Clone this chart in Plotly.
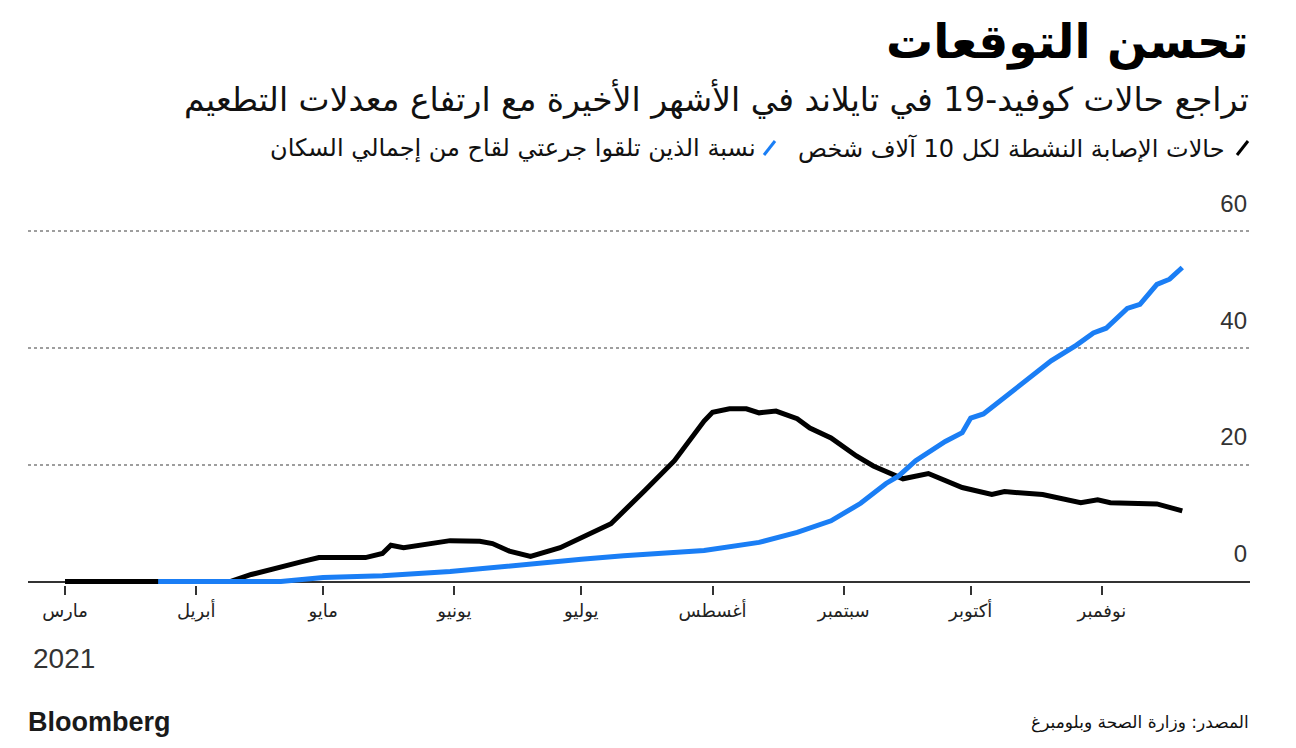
import plotly.graph_objects as go

# --------------------------------------
# Data
# --------------------------------------

# Active cases per 10,000 people
cases_dates = [
    "2021-03-01", "2021-03-21", "2021-04-09", "2021-04-14", "2021-04-20",
    "2021-04-26", "2021-04-30", "2021-05-11", "2021-05-15", "2021-05-17",
    "2021-05-20", "2021-05-27", "2021-05-31", "2021-06-07", "2021-06-10",
    "2021-06-14", "2021-06-19", "2021-06-26", "2021-07-01", "2021-07-06",
    "2021-07-08", "2021-07-16", "2021-07-23", "2021-07-30", "2021-08-01",
    "2021-08-05", "2021-08-09", "2021-08-12", "2021-08-16", "2021-08-21",
    "2021-08-24", "2021-08-29", "2021-09-04", "2021-09-08", "2021-09-15",
    "2021-09-21", "2021-09-29", "2021-10-06", "2021-10-09", "2021-10-18",
    "2021-10-27", "2021-10-31", "2021-11-03", "2021-11-14", "2021-11-20",
]
cases_values = [
    0, 0, 0, 1.2, 2.4,
    3.4, 4.1, 4.1, 4.8, 6.2,
    5.8, 6.5, 7.0, 6.9, 6.5,
    5.2, 4.3, 5.8, 7.5, 9.4,
    9.9, 15.6, 20.7, 27.5, 29.0,
    29.6, 29.6, 28.9, 29.2, 27.9,
    26.3, 24.6, 21.5, 19.8, 17.6,
    18.5, 16.1, 14.9, 15.4, 14.9,
    13.5, 14.0, 13.5, 13.3, 12.1,
]

# Share of population with two vaccine doses (%)
vax_dates = [
    "2021-03-23", "2021-04-21", "2021-05-01", "2021-05-15", "2021-05-31",
    "2021-06-07", "2021-06-19", "2021-06-26", "2021-07-01", "2021-07-11",
    "2021-07-30", "2021-08-12", "2021-08-21", "2021-08-29", "2021-09-05",
    "2021-09-11", "2021-09-14", "2021-09-18", "2021-09-25", "2021-09-29",
    "2021-10-01", "2021-10-04", "2021-10-07", "2021-10-14", "2021-10-20",
    "2021-10-26", "2021-10-30", "2021-11-02", "2021-11-07", "2021-11-10",
    "2021-11-14", "2021-11-17", "2021-11-20",
]
vax_values = [
    0, 0, 0.7, 1.0, 1.7,
    2.2, 3.1, 3.4, 3.8, 4.4,
    5.3, 6.7, 8.4, 10.4, 13.4,
    16.8, 18.1, 20.7, 24.0, 25.5,
    28.0, 28.7, 30.4, 34.5, 37.8,
    40.5, 42.6, 43.4, 46.8, 47.5,
    50.9, 51.8, 53.8,
]

month_ticks = ["2021-03-01", "2021-04-01", "2021-05-01", "2021-06-01", "2021-07-01",
               "2021-08-01", "2021-09-01", "2021-10-01", "2021-11-01"]
month_labels = ["مارس", "أبريل", "مايو", "يونيو", "يوليو",
                "أغسطس", "سبتمبر", "أكتوبر", "نوفمبر"]
y_ticks = [0, 20, 40, 60]

title = "تحسن التوقعات"
subtitle = "تراجع حالات كوفيد-19 في تايلاند في الأشهر الأخيرة مع ارتفاع معدلات التطعيم"
legend_cases = "حالات الإصابة النشطة لكل 10 آلاف شخص"
legend_vax = "نسبة الذين تلقوا جرعتي لقاح من إجمالي السكان"
source = "المصدر: وزارة الصحة وبلومبرغ"

# --------------------------------------
# Layout helpers (pixel -> paper)
# --------------------------------------
W, H = 1296, 748
L, R, T, B = 28, 46, 229, 163
pw, ph = W - L - R, H - T - B


def px(x):
    return (x - L) / pw


def py(y):
    return (H - B - y) / ph


AR_FONT = "DejaVu Sans"
BLACK = "#000000"
BLUE = "#1a7ef5"

# --------------------------------------
# Figure
# --------------------------------------
fig = go.Figure()

fig.add_trace(go.Scatter(
    x=cases_dates, y=cases_values, mode="lines",
    line=dict(color=BLACK, width=5), name=legend_cases, showlegend=False
))
fig.add_trace(go.Scatter(
    x=vax_dates, y=vax_values, mode="lines",
    line=dict(color=BLUE, width=5), name=legend_vax, showlegend=False
))

annotations = [
    dict(x=px(1251), y=py(42), text="<b>" + title + "</b>", xanchor="right", yanchor="middle",
         font=dict(size=47, color="#000", family=AR_FONT)),
    dict(x=px(1251), y=py(99), text=subtitle, xanchor="right", yanchor="middle",
         font=dict(size=33, color="#111", family=AR_FONT)),
    dict(x=px(1227), y=py(148), text=legend_cases, xanchor="right", yanchor="middle",
         font=dict(size=24, color="#111", family=AR_FONT)),
    dict(x=px(758), y=py(148), text=legend_vax, xanchor="right", yanchor="middle",
         font=dict(size=24, color="#111", family=AR_FONT)),
    dict(x=px(31), y=py(658), text="2021", xanchor="left", yanchor="middle",
         font=dict(size=28, color="#333", family="Liberation Sans")),
    dict(x=px(26), y=py(722), text="<b>Bloomberg</b>", xanchor="left", yanchor="middle",
         font=dict(size=27, color="#1a1a1a", family="Liberation Sans")),
    dict(x=px(1251), y=py(722), text=source, xanchor="right", yanchor="middle",
         font=dict(size=17, color="#111", family=AR_FONT)),
]
for a in annotations:
    a.update(xref="paper", yref="paper", showarrow=False)

shapes = [
    dict(type="line", xref="paper", yref="paper",
         x0=px(1237), y0=py(155), x1=px(1248), y1=py(141),
         line=dict(color=BLACK, width=3)),
    dict(type="line", xref="paper", yref="paper",
         x0=px(764), y0=py(155), x1=px(775), y1=py(141),
         line=dict(color=BLUE, width=3)),
]

fig.update_layout(
    width=W, height=H,
    margin=dict(l=L, r=R, t=T, b=B, autoexpand=False),
    paper_bgcolor="white", plot_bgcolor="white",
    font=dict(family=AR_FONT, color="#222"),
    showlegend=False,
    annotations=annotations,
    shapes=shapes,
    xaxis=dict(
        type="date",
        range=["2021-02-20 06:00", "2021-12-06"],
        tickmode="array", tickvals=month_ticks, ticktext=month_labels,
        ticks="outside", ticklen=9, tickwidth=1.5, tickcolor="#333",
        showgrid=False, showline=False, zeroline=False,
        tickfont=dict(size=18, color="#222", family=AR_FONT),
    ),
    yaxis=dict(
        range=[-0.6, 60.4],
        side="right",
        tickmode="array", tickvals=y_ticks,
        ticklabelposition="inside top", ticklabeloverflow="allow",
        ticklabelshift=-11, ticklabelstandoff=0,
        ticks="",
        showgrid=True, gridcolor="#9e9e9e", gridwidth=2, griddash="dot",
        zeroline=True, zerolinecolor="#333", zerolinewidth=2,
        showline=False,
        tickfont=dict(size=24, color="#333", family="Liberation Sans"),
    ),
)

fig.write_html("out.html", config={"displayModeBar": False},
               post_script="document.body.style.margin='0px';")
